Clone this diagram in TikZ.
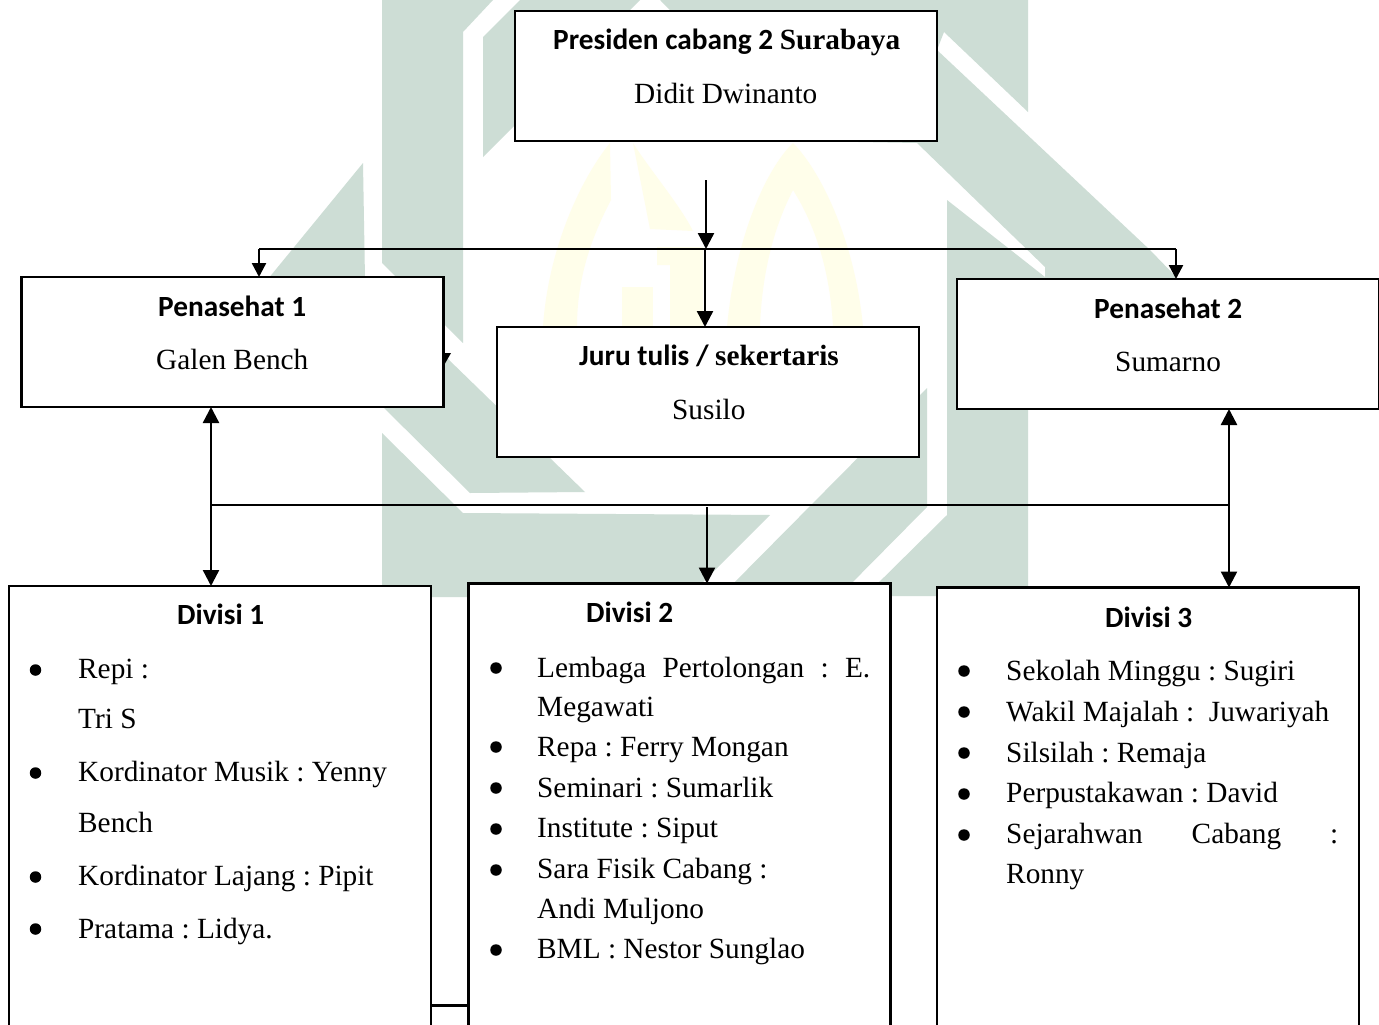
\documentclass[tikz,border=0pt]{standalone}
\usepackage{fontspec}
\setmainfont{Liberation Serif}
\newfontfamily\calib{Carlito}
\usetikzlibrary{arrows.meta}
\definecolor{wmgreen}{HTML}{CDDDD5}
\definecolor{wmyellow}{HTML}{FFFEEA}
\frenchspacing
\tikzset{
  x=1pt,y=-1pt,
  orgbox/.style={draw=black,fill=white,line width=2.3pt,outer sep=0pt,minimum width=422pt,minimum height=130pt,anchor=north west,inner sep=0pt},
  divbox/.style={draw=black,fill=white,line width=2.2pt,outer sep=0pt,minimum width=422pt,minimum height=520pt,anchor=north west,inner sep=0pt},
  txt/.style={anchor=base west,inner sep=0pt,font=\fontsize{29.3pt}{31pt}\selectfont},
  head/.style={anchor=base west,inner sep=0pt,font=\fontsize{29.3pt}{31pt}\selectfont\calib\bfseries},
  dot/.style={circle,fill=black,inner sep=0pt,minimum size=11.5pt},
  wire/.style={line width=2.4pt,draw=black},
  arrow/.style={wire,-{Triangle[length=16pt,width=16pt]}},
  smallarrow/.style={wire,-{Triangle[length=14pt,width=14pt]}},
  twoway/.style={wire,{Triangle[length=16pt,width=16pt]}-{Triangle[length=16pt,width=16pt]}},
  wmg/.style={fill=wmgreen,draw=none},
  wmy/.style={fill=wmyellow,draw=none},
}
\begin{document}
\begin{tikzpicture}
\useasboundingbox (0,0) rectangle (1379,1025);
\clip (0,0) rectangle (1379,1025);
\fill[white] (0,0) rectangle (1379,1025);
% watermark, green
\fill[wmg] (382,0) -- (493,0) -- (463,32) -- (463,343) -- (382,263) -- cycle;
\fill[wmg] (483,37) -- (520,0) -- (640,0) -- (483,157) -- cycle;
\fill[wmg] (660,0) -- (1028,0) -- (1028,112) -- (944,32) -- (937,50) -- (1150,250) -- (1178,279) -- (1045,279) -- (1045,267) -- (917,143) -- (800,141) -- cycle;
\fill[wmg] (947,200) -- (1045,277) -- (1045,300) -- (1028,320) -- (1028,596) -- (865,596) -- (947,515) -- cycle;
\fill[wmg] (363,163) -- (365,279) -- (268,279) -- cycle;
\fill[wmg] (383,407) -- (470,493) -- (585,492) -- (447,358) -- (430,360) -- cycle;
\fill[wmg] (382,433) -- (463,513) -- (770,515) -- (688,597) -- (382,597) -- cycle;
\fill[wmg] (927,388) -- (927,507) -- (838,597) -- (720,597) -- cycle;
% watermark, yellow
\fill[wmy] (543,327) .. controls (548,250) and (580,180) .. (610,143) -- (611,200) .. controls (590,240) and (577,280) .. (577,327) -- cycle;
\fill[wmy] (633,143) -- (650,229) -- (693,231) .. controls (680,205) and (650,170) .. (633,143) -- cycle;
\fill[wmy] (657,247) -- (703,247) -- (703,327) -- (670,327) -- (670,265) -- (657,265) -- cycle;
\fill[wmy] (622,287) rectangle (653,327);
\fill[wmy] (727,327) .. controls (735,240) and (765,170) .. (793,143) .. controls (820,170) and (855,240) .. (863,327) -- (833,327) .. controls (830,270) and (815,225) .. (793,190) .. controls (775,225) and (762,270) .. (760,327) -- cycle;
% boxes
\node[orgbox] (pres) at (515,11) {};
\node[orgbox] (pen1) at (21.5,277) {};
\node[orgbox] (juru) at (497,327) {};
\node[orgbox] (pen2) at (957,279) {};
\node[divbox] (div1) at (9,586) {};
\node[divbox] (div2) at (468.5,583.5) {};
\node[divbox] (div3) at (937,587.5) {};
% heads
\node[head] (t1) at (553,49.5) {Presiden cabang 2 {\fontspec{Liberation Serif}Surabaya}};
\node[txt] (t2) at (634,103) {Didit Dwinanto};
\node[head] (t3) at (158,316) {Penasehat 1};
\node[txt] (t4) at (156,369) {Galen Bench};
\node[head] (t5) at (579,365.5) {Juru tulis / {\fontspec{Liberation Serif}sekertaris}};
\node[txt] (t6) at (672,419) {Susilo};
\node[head] (t7) at (1094,318) {Penasehat 2};
\node[txt] (t8) at (1115,371) {Sumarno};
% divisi 1
\node[head] (d1) at (177,624) {Divisi 1};
\node[dot] (b11) at (35.5,670) {};
\node[txt] (a11) at (78,678.7) {Repi :};
\node[txt] (a12) at (78,728.7) {Tri S};
\node[dot] (b12) at (35.5,773) {};
\node[txt] (a13) at (78,781.7) {Kordinator Musik : Yenny};
\node[txt] (a14) at (78,832.7) {Bench};
\node[dot] (b13) at (35.5,877) {};
\node[txt] (a15) at (78,885.3) {Kordinator Lajang : Pipit};
\node[dot] (b14) at (35.5,929) {};
\node[txt] (a16) at (78,938.7) {Pratama : Lidya.};
% divisi 2
\node[head] (d2) at (586,622) {Divisi 2};
\node[dot] (b21) at (496,668) {};
\node[txt] (a21) at (537,677) {\makebox[333pt][s]{Lembaga Pertolongan : E.}};
\node[txt] (a22) at (537,716) {Megawati};
\node[dot] (b22) at (496,747) {};
\node[txt] (a23) at (537,756) {Repa : Ferry Mongan};
\node[dot] (b23) at (496,788) {};
\node[txt] (a24) at (537,797) {Seminari : Sumarlik};
\node[dot] (b24) at (496,829) {};
\node[txt] (a25) at (537,837.5) {Institute : Siput};
\node[dot] (b25) at (496,870) {};
\node[txt] (a26) at (537,878.5) {Sara Fisik Cabang :};
\node[txt] (a27) at (537,918) {Andi Muljono};
\node[dot] (b26) at (496,950) {};
\node[txt] (a28) at (537,958.5) {BML : Nestor Sunglao};
% divisi 3
\node[head] (d3) at (1105,627) {Divisi 3};
\node[dot] (b31) at (964,671) {};
\node[txt] (a31) at (1006,680) {Sekolah Minggu : Sugiri};
\node[dot] (b32) at (964,712) {};
\node[txt] (a32) at (1006,721) {Wakil Majalah :\ \ Juwariyah};
\node[dot] (b33) at (964,753) {};
\node[txt] (a33) at (1006,762) {Silsilah : Remaja};
\node[dot] (b34) at (964,794) {};
\node[txt] (a34) at (1006,802.5) {Perpustakawan : David};
\node[dot] (b35) at (964,835) {};
\node[txt] (a35) at (1006,843.5) {\makebox[332pt][s]{Sejarahwan Cabang :}};
\node[txt] (a36) at (1006,883.5) {Ronny};
% connectors, upper
\coordinate (src) at (706,180);
\coordinate (busc) at (706,249);
\coordinate (busl) at (259,249);
\coordinate (busr) at (1176,249);
\coordinate (jt) at (705,250);
\draw[arrow] (src) -- (busc);
\draw[wire] (busl) -- (busr);
\draw[smallarrow] (busl) -- (busl |- pen1.north);
\draw[smallarrow] (busr) -- (busr |- pen2.north);
\draw[arrow] (jt) -- (jt |- juru.north);
% connectors, lower
\coordinate (lowl) at (211,505);
\coordinate (lowr) at (1229,505);
\coordinate (lowc) at (707,507);
\draw[wire] (lowl) -- (lowr);
\draw[twoway] (lowl |- pen1.south) -- (lowl |- div1.north);
\draw[twoway] (lowr |- pen2.south) -- (lowr |- div3.north);
\draw[arrow] (lowc) -- (lowc |- div2.north);
% stub between Divisi 1 and Divisi 2
\coordinate (stub) at (431,1005.5);
\draw[wire] (stub -| div1.east) -- (stub -| div2.west);
% cut-off arrowhead at the side of Penasehat 1
\fill[black] (443,353) -- (451,353) -- (443,367) -- cycle;
\end{tikzpicture}
\end{document}
